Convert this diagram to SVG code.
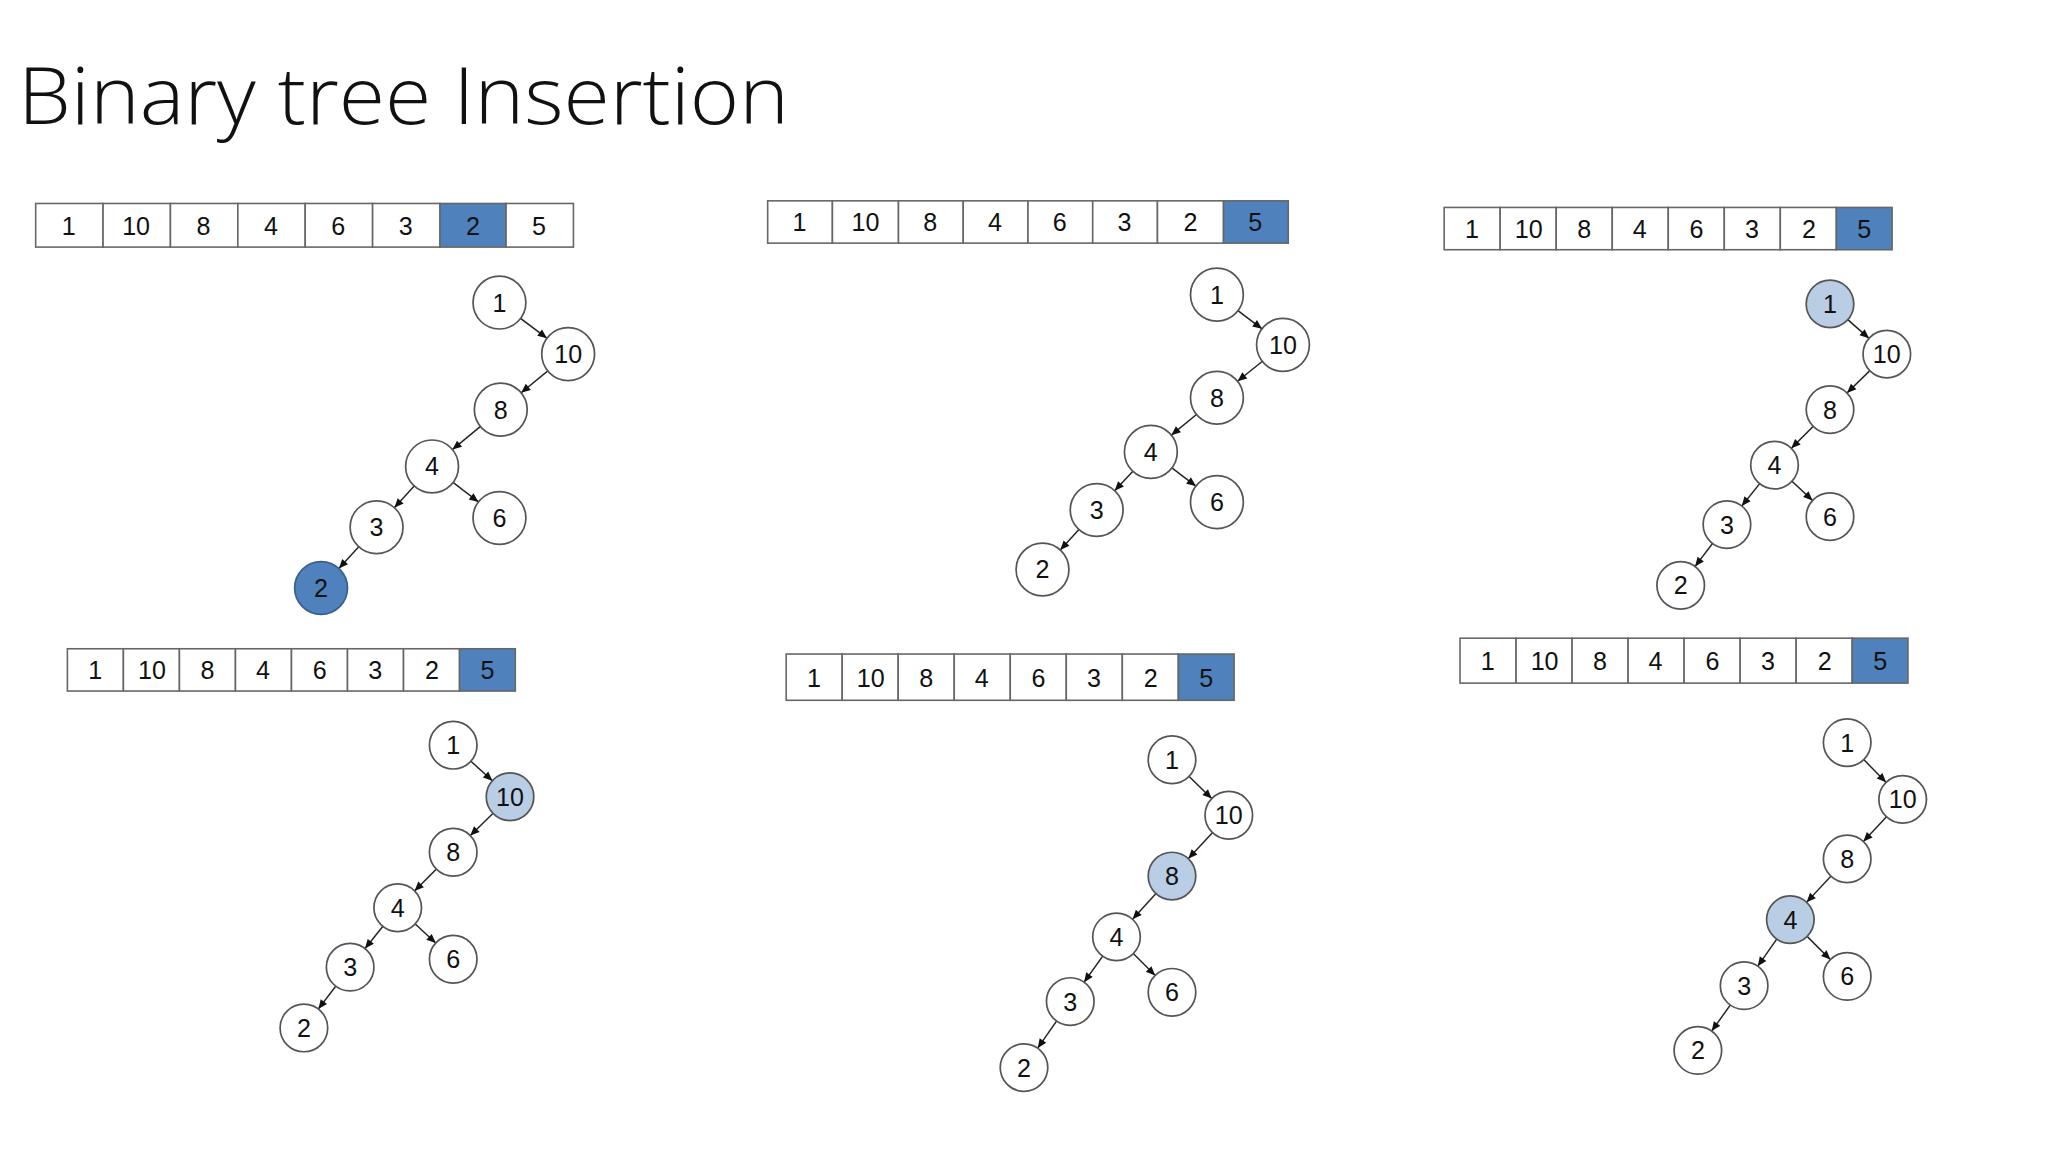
<svg xmlns="http://www.w3.org/2000/svg" width="2048" height="1152" viewBox="0 0 2048 1152">
<style>
.c{fill:#fff;stroke:#666;stroke-width:1.2}
.h{fill:#4f81bd;stroke:#666;stroke-width:1.2}
.ct{font-family:"Liberation Sans",Arial,sans-serif;font-size:19px;fill:#111;text-anchor:middle;dominant-baseline:central}
.n{fill:#fff;stroke:#555;stroke-width:1.3}
.nl{fill:#b9cde5;stroke:#555;stroke-width:1.3}
.nd{fill:#4f81bd;stroke:#3a5f8f;stroke-width:1.3}
.e{stroke:#222;stroke-width:1.1;fill:none}
.e20{marker-end:url(#a20)}
.e18{marker-end:url(#a18)}
</style>
<defs>
<marker id="a20" markerUnits="userSpaceOnUse" viewBox="0 0 40 10" markerWidth="40" markerHeight="10" refX="40" refY="5" orient="auto"><path d="M13,2 L20,5 L13,8 z" fill="#111"/></marker>
<marker id="a18" markerUnits="userSpaceOnUse" viewBox="0 0 40 10" markerWidth="40" markerHeight="10" refX="38" refY="5" orient="auto"><path d="M13,2 L20,5 L13,8 z" fill="#111"/></marker>
</defs>
<rect width="2048" height="1152" fill="#fff"/>
<text x="18" y="124" font-family="'Open Sans',sans-serif" font-weight="300" font-size="80" fill="#111" textLength="771" lengthAdjust="spacingAndGlyphs">Binary tree Insertion</text>
<g transform="scale(1.3213)">
<g id="connectors">
<!-- panel1 -->
<line class="e e20" x1="378" y1="229" x2="430" y2="268"/><line class="e e20" x1="430" y1="268" x2="379" y2="310"/><line class="e e20" x1="379" y1="310" x2="327" y2="353"/><line class="e e20" x1="327" y1="353" x2="285" y2="399"/><line class="e e20" x1="327" y1="353" x2="378" y2="392"/><line class="e e20" x1="285" y1="399" x2="243" y2="445"/>
<!-- panel2 -->
<line class="e e20" x1="921" y1="223" x2="971" y2="261"/><line class="e e20" x1="971" y1="261" x2="921" y2="301"/><line class="e e20" x1="921" y1="301" x2="871" y2="342"/><line class="e e20" x1="871" y1="342" x2="830" y2="386"/><line class="e e20" x1="871" y1="342" x2="921" y2="380"/><line class="e e20" x1="830" y1="386" x2="789" y2="431"/>
<!-- panel3 -->
<line class="e e18" x1="1385" y1="230" x2="1428" y2="268"/><line class="e e18" x1="1428" y1="268" x2="1385" y2="310"/><line class="e e18" x1="1385" y1="310" x2="1343" y2="352"/><line class="e e18" x1="1343" y1="352" x2="1307" y2="397"/><line class="e e18" x1="1343" y1="352" x2="1385" y2="391"/><line class="e e18" x1="1307" y1="397" x2="1272" y2="443"/>
<!-- panel4 -->
<line class="e e18" x1="343" y1="564" x2="386" y2="603"/><line class="e e18" x1="386" y1="603" x2="343" y2="645"/><line class="e e18" x1="343" y1="645" x2="301" y2="687"/><line class="e e18" x1="301" y1="687" x2="265" y2="732"/><line class="e e18" x1="301" y1="687" x2="343" y2="726"/><line class="e e18" x1="265" y1="732" x2="230" y2="778"/>
<!-- panel5 -->
<line class="e e18" x1="887" y1="575" x2="930" y2="617"/><line class="e e18" x1="930" y1="617" x2="887" y2="663"/><line class="e e18" x1="887" y1="663" x2="845" y2="709"/><line class="e e18" x1="845" y1="709" x2="810" y2="758"/><line class="e e18" x1="845" y1="709" x2="887" y2="751"/><line class="e e18" x1="810" y1="758" x2="775" y2="808"/>
<!-- panel6 -->
<line class="e e18" x1="1398" y1="562" x2="1440" y2="605"/><line class="e e18" x1="1440" y1="605" x2="1398" y2="650"/><line class="e e18" x1="1398" y1="650" x2="1355" y2="696"/><line class="e e18" x1="1355" y1="696" x2="1320" y2="746"/><line class="e e18" x1="1355" y1="696" x2="1398" y2="739"/><line class="e e18" x1="1320" y1="746" x2="1285" y2="795"/>
</g>

<g id="array1"><rect class="c" x="27" y="154" width="51" height="33"/><rect class="c" x="78" y="154" width="51" height="33"/><rect class="c" x="129" y="154" width="51" height="33"/><rect class="c" x="180" y="154" width="51" height="33"/><rect class="c" x="231" y="154" width="51" height="33"/><rect class="c" x="282" y="154" width="51" height="33"/><rect class="h" x="333" y="154" width="50" height="33"/><rect class="c" x="383" y="154" width="51" height="33"/>
<text class="ct" x="52" y="171">1</text><text class="ct" x="103" y="171">10</text><text class="ct" x="154" y="171">8</text><text class="ct" x="205" y="171">4</text><text class="ct" x="256" y="171">6</text><text class="ct" x="307" y="171">3</text><text class="ct" x="358" y="171">2</text><text class="ct" x="408" y="171">5</text></g>

<g id="array2"><rect class="c" x="581" y="152" width="49" height="32"/><rect class="c" x="630" y="152" width="50" height="32"/><rect class="c" x="680" y="152" width="49" height="32"/><rect class="c" x="729" y="152" width="49" height="32"/><rect class="c" x="778" y="152" width="49" height="32"/><rect class="c" x="827" y="152" width="49" height="32"/><rect class="c" x="876" y="152" width="50" height="32"/><rect class="h" x="926" y="152" width="49" height="32"/>
<text class="ct" x="605" y="168">1</text><text class="ct" x="655" y="168">10</text><text class="ct" x="704" y="168">8</text><text class="ct" x="753" y="168">4</text><text class="ct" x="802" y="168">6</text><text class="ct" x="851" y="168">3</text><text class="ct" x="901" y="168">2</text><text class="ct" x="950" y="168">5</text></g>

<g id="array3"><rect class="c" x="1093" y="157" width="42.4" height="32"/><rect class="c" x="1135.4" y="157" width="42.4" height="32"/><rect class="c" x="1177.8" y="157" width="42.4" height="32"/><rect class="c" x="1220.2" y="157" width="42.4" height="32"/><rect class="c" x="1262.6" y="157" width="42.4" height="32"/><rect class="c" x="1305" y="157" width="42.4" height="32"/><rect class="c" x="1347.4" y="157" width="42.4" height="32"/><rect class="h" x="1389.8" y="157" width="42.2" height="32"/>
<text class="ct" x="1114" y="173">1</text><text class="ct" x="1157" y="173">10</text><text class="ct" x="1199" y="173">8</text><text class="ct" x="1241" y="173">4</text><text class="ct" x="1284" y="173">6</text><text class="ct" x="1326" y="173">3</text><text class="ct" x="1369" y="173">2</text><text class="ct" x="1411" y="173">5</text></g>

<g id="array4"><rect class="c" x="51" y="491" width="42.4" height="32"/><rect class="c" x="93.4" y="491" width="42.4" height="32"/><rect class="c" x="135.8" y="491" width="42.4" height="32"/><rect class="c" x="178.2" y="491" width="42.4" height="32"/><rect class="c" x="220.6" y="491" width="42.4" height="32"/><rect class="c" x="263" y="491" width="42.4" height="32"/><rect class="c" x="305.4" y="491" width="42.4" height="32"/><rect class="h" x="347.8" y="491" width="42.2" height="32"/>
<text class="ct" x="72" y="507">1</text><text class="ct" x="115" y="507">10</text><text class="ct" x="157" y="507">8</text><text class="ct" x="199" y="507">4</text><text class="ct" x="242" y="507">6</text><text class="ct" x="284" y="507">3</text><text class="ct" x="327" y="507">2</text><text class="ct" x="369" y="507">5</text></g>

<g id="array5"><rect class="c" x="595" y="495" width="42.4" height="35"/><rect class="c" x="637.4" y="495" width="42.4" height="35"/><rect class="c" x="679.8" y="495" width="42.4" height="35"/><rect class="c" x="722.2" y="495" width="42.4" height="35"/><rect class="c" x="764.6" y="495" width="42.4" height="35"/><rect class="c" x="807" y="495" width="42.4" height="35"/><rect class="c" x="849.4" y="495" width="42.4" height="35"/><rect class="h" x="891.8" y="495" width="42.2" height="35"/>
<text class="ct" x="616" y="513">1</text><text class="ct" x="659" y="513">10</text><text class="ct" x="701" y="513">8</text><text class="ct" x="743" y="513">4</text><text class="ct" x="786" y="513">6</text><text class="ct" x="828" y="513">3</text><text class="ct" x="871" y="513">2</text><text class="ct" x="913" y="513">5</text></g>

<g id="array6"><rect class="c" x="1105" y="483" width="42.4" height="34"/><rect class="c" x="1147.4" y="483" width="42.4" height="34"/><rect class="c" x="1189.8" y="483" width="42.4" height="34"/><rect class="c" x="1232.2" y="483" width="42.4" height="34"/><rect class="c" x="1274.6" y="483" width="42.4" height="34"/><rect class="c" x="1317" y="483" width="42.4" height="34"/><rect class="c" x="1359.4" y="483" width="42.4" height="34"/><rect class="h" x="1401.8" y="483" width="42.2" height="34"/>
<text class="ct" x="1126" y="500">1</text><text class="ct" x="1169" y="500">10</text><text class="ct" x="1211" y="500">8</text><text class="ct" x="1253" y="500">4</text><text class="ct" x="1296" y="500">6</text><text class="ct" x="1338" y="500">3</text><text class="ct" x="1381" y="500">2</text><text class="ct" x="1423" y="500">5</text></g>

<g id="p1-1"><circle class="n" cx="378" cy="229" r="20"/><text class="ct" x="378" y="229">1</text></g>
<g id="p1-10"><circle class="n" cx="430" cy="268" r="20"/><text class="ct" x="430" y="268">10</text></g>
<g id="p1-8"><circle class="n" cx="379" cy="310" r="20"/><text class="ct" x="379" y="310">8</text></g>
<g id="p1-4"><circle class="n" cx="327" cy="353" r="20"/><text class="ct" x="327" y="353">4</text></g>
<g id="p1-6"><circle class="n" cx="378" cy="392" r="20"/><text class="ct" x="378" y="392">6</text></g>
<g id="p1-3"><circle class="n" cx="285" cy="399" r="20"/><text class="ct" x="285" y="399">3</text></g>
<g id="p1-2"><circle class="nd" cx="243" cy="445" r="20"/><text class="ct" x="243" y="445">2</text></g>

<g id="p2-1"><circle class="n" cx="921" cy="223" r="20"/><text class="ct" x="921" y="223">1</text></g>
<g id="p2-10"><circle class="n" cx="971" cy="261" r="20"/><text class="ct" x="971" y="261">10</text></g>
<g id="p2-8"><circle class="n" cx="921" cy="301" r="20"/><text class="ct" x="921" y="301">8</text></g>
<g id="p2-4"><circle class="n" cx="871" cy="342" r="20"/><text class="ct" x="871" y="342">4</text></g>
<g id="p2-3"><circle class="n" cx="830" cy="386" r="20"/><text class="ct" x="830" y="386">3</text></g>
<g id="p2-6"><circle class="n" cx="921" cy="380" r="20"/><text class="ct" x="921" y="380">6</text></g>
<g id="p2-2"><circle class="n" cx="789" cy="431" r="20"/><text class="ct" x="789" y="431">2</text></g>

<g id="p3-1"><circle class="nl" cx="1385" cy="230" r="18"/><text class="ct" x="1385" y="230">1</text></g>
<g id="p3-10"><circle class="n" cx="1428" cy="268" r="18"/><text class="ct" x="1428" y="268">10</text></g>
<g id="p3-8"><circle class="n" cx="1385" cy="310" r="18"/><text class="ct" x="1385" y="310">8</text></g>
<g id="p3-4"><circle class="n" cx="1343" cy="352" r="18"/><text class="ct" x="1343" y="352">4</text></g>
<g id="p3-3"><circle class="n" cx="1307" cy="397" r="18"/><text class="ct" x="1307" y="397">3</text></g>
<g id="p3-6"><circle class="n" cx="1385" cy="391" r="18"/><text class="ct" x="1385" y="391">6</text></g>
<g id="p3-2"><circle class="n" cx="1272" cy="443" r="18"/><text class="ct" x="1272" y="443">2</text></g>

<g id="p4-1"><circle class="n" cx="343" cy="564" r="18"/><text class="ct" x="343" y="564">1</text></g>
<g id="p4-10"><circle class="nl" cx="386" cy="603" r="18"/><text class="ct" x="386" y="603">10</text></g>
<g id="p4-8"><circle class="n" cx="343" cy="645" r="18"/><text class="ct" x="343" y="645">8</text></g>
<g id="p4-4"><circle class="n" cx="301" cy="687" r="18"/><text class="ct" x="301" y="687">4</text></g>
<g id="p4-3"><circle class="n" cx="265" cy="732" r="18"/><text class="ct" x="265" y="732">3</text></g>
<g id="p4-6"><circle class="n" cx="343" cy="726" r="18"/><text class="ct" x="343" y="726">6</text></g>
<g id="p4-2"><circle class="n" cx="230" cy="778" r="18"/><text class="ct" x="230" y="778">2</text></g>

<g id="p5-1"><circle class="n" cx="887" cy="575" r="18"/><text class="ct" x="887" y="575">1</text></g>
<g id="p5-10"><circle class="n" cx="930" cy="617" r="18"/><text class="ct" x="930" y="617">10</text></g>
<g id="p5-8"><circle class="nl" cx="887" cy="663" r="18"/><text class="ct" x="887" y="663">8</text></g>
<g id="p5-4"><circle class="n" cx="845" cy="709" r="18"/><text class="ct" x="845" y="709">4</text></g>
<g id="p5-3"><circle class="n" cx="810" cy="758" r="18"/><text class="ct" x="810" y="758">3</text></g>
<g id="p5-6"><circle class="n" cx="887" cy="751" r="18"/><text class="ct" x="887" y="751">6</text></g>
<g id="p5-2"><circle class="n" cx="775" cy="808" r="18"/><text class="ct" x="775" y="808">2</text></g>

<g id="p6-1"><circle class="n" cx="1398" cy="562" r="18"/><text class="ct" x="1398" y="562">1</text></g>
<g id="p6-10"><circle class="n" cx="1440" cy="605" r="18"/><text class="ct" x="1440" y="605">10</text></g>
<g id="p6-8"><circle class="n" cx="1398" cy="650" r="18"/><text class="ct" x="1398" y="650">8</text></g>
<g id="p6-4"><circle class="nl" cx="1355" cy="696" r="18"/><text class="ct" x="1355" y="696">4</text></g>
<g id="p6-3"><circle class="n" cx="1320" cy="746" r="18"/><text class="ct" x="1320" y="746">3</text></g>
<g id="p6-6"><circle class="n" cx="1398" cy="739" r="18"/><text class="ct" x="1398" y="739">6</text></g>
<g id="p6-2"><circle class="n" cx="1285" cy="795" r="18"/><text class="ct" x="1285" y="795">2</text></g>
</g>
</svg>
